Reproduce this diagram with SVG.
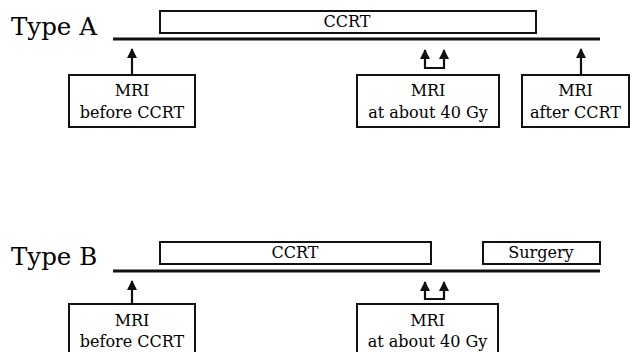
<svg xmlns="http://www.w3.org/2000/svg" width="634" height="352" viewBox="0 0 634 352">
<style>
.t{font-family:"DejaVu Serif","Liberation Serif",serif;fill:#000}
.lbl{font-size:24.5px}
.bx{fill:#fff;stroke:#111;stroke-width:2}
.tx{font-size:16px;text-anchor:middle}
.tl{stroke:#111;stroke-width:3;fill:none}
.ar{stroke:#111;stroke-width:2.2;fill:none}
</style>
<defs>
<marker id="ah" viewBox="0 0 10 10" refX="9" refY="5" markerUnits="userSpaceOnUse" markerWidth="10" markerHeight="10" orient="auto-start-reverse">
<path d="M0,0 L10,5 L0,10 z" fill="#111"/>
</marker>
</defs>
<rect width="634" height="352" fill="#fff"/>
<text class="t lbl" x="11" y="35">Type A</text>
<text class="t lbl" x="11" y="265">Type B</text>
<g id="timelines">
<line class="tl" x1="113" y1="39" x2="600" y2="39"/>
<line class="tl" x1="113" y1="271" x2="600" y2="271"/>
</g>
<g id="A_ccrt"><rect class="bx" x="160" y="11" width="376" height="22"/><text class="t tx" x="347" y="27">CCRT</text></g>
<g id="A_mri_before"><rect class="bx" x="69" y="75" width="126" height="52"/><text class="t tx" x="132" y="96">MRI</text><text class="t tx" x="132" y="118">before CCRT</text></g>
<g id="A_mri_40"><rect class="bx" x="357" y="75" width="142" height="52"/><text class="t tx" x="428" y="96">MRI</text><text class="t tx" x="428" y="118">at about 40 Gy</text></g>
<g id="A_mri_after"><rect class="bx" x="522" y="75" width="107" height="52"/><text class="t tx" x="575.5" y="96">MRI</text><text class="t tx" x="575.5" y="118">after CCRT</text></g>
<g id="B_ccrt"><rect class="bx" x="160" y="242" width="271" height="22"/><text class="t tx" x="295" y="258">CCRT</text></g>
<g id="B_surgery"><rect class="bx" x="483" y="242" width="117" height="22"/><text class="t tx" x="541" y="258">Surgery</text></g>
<g id="B_mri_before"><rect class="bx" x="69" y="304" width="126" height="52"/><text class="t tx" x="132" y="326">MRI</text><text class="t tx" x="132" y="347">before CCRT</text></g>
<g id="B_mri_40"><rect class="bx" x="357" y="304" width="141" height="52"/><text class="t tx" x="427.5" y="326">MRI</text><text class="t tx" x="427.5" y="347">at about 40 Gy</text></g>
<g id="connectors">
<path class="ar" d="M132,75 V49" marker-end="url(#ah)"/>
<path class="ar" d="M425,50 V68 H444 V50" marker-start="url(#ah)" marker-end="url(#ah)"/>
<path class="ar" d="M581,75 V49" marker-end="url(#ah)"/>
<path class="ar" d="M132,304 V281" marker-end="url(#ah)"/>
<path class="ar" d="M425,282 V299 H444 V282" marker-start="url(#ah)" marker-end="url(#ah)"/>
</g>
</svg>
